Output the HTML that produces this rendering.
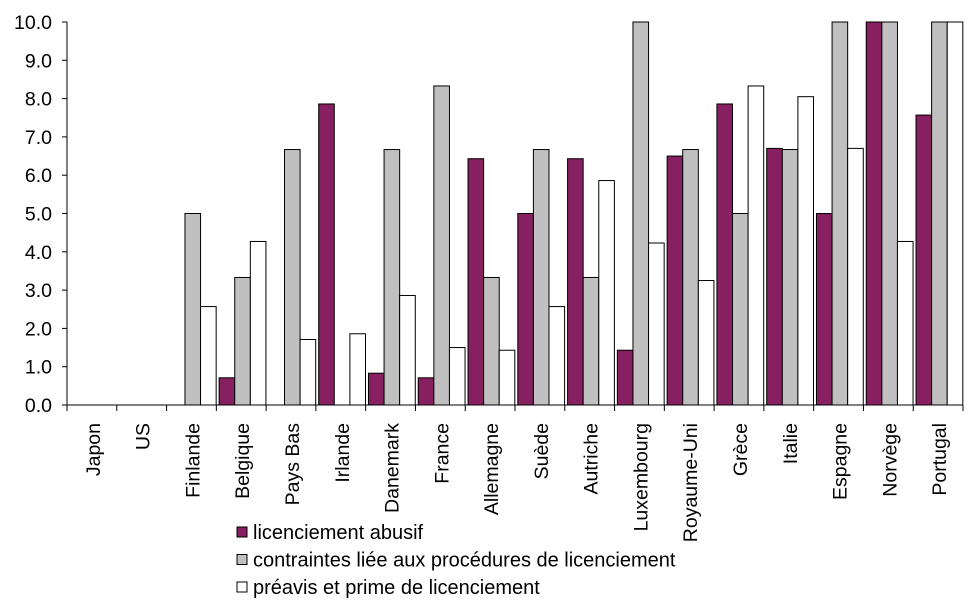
<!DOCTYPE html>
<html><head><meta charset="utf-8"><style>
body{margin:0;background:#fff}
svg text{font-family:"Liberation Sans",Arial,sans-serif;font-size:19.5px;fill:#000}
</style></head><body>
<svg id="chart" width="970" height="603" viewBox="0 0 970 603" xmlns="http://www.w3.org/2000/svg">
<g id="plot"></g>
<g id="legend"></g>
</svg>
<script>
const categories=["Japon","US","Finlande","Belgique","Pays Bas","Irlande","Danemark","France","Allemagne","Suède","Autriche","Luxembourg","Royaume-Uni","Grèce","Italie","Espagne","Norvège","Portugal"];
const abusif=[0,0,0,0.71,0,7.86,0.83,0.71,6.43,5.0,6.43,1.43,6.5,7.86,6.7,5.0,10,7.57];
const contraintes=[0,0,5.0,3.33,6.67,0,6.67,8.33,3.33,6.67,3.33,10,6.67,5.0,6.67,10,10,10];
const preavis=[0,0,2.57,4.27,1.71,1.86,2.86,1.5,1.43,2.57,5.86,4.23,3.25,8.33,8.05,6.7,4.27,10];
const yTicks=[0,1,2,3,4,5,6,7,8,9,10];
const seriesNames=["licenciement abusif","contraintes liée aux procédures de licenciement","préavis et prime de licenciement"];
const seriesColors=["#862060","#c0c0c0","#ffffff"];

const NS="http://www.w3.org/2000/svg";
const X0=67,X1=963,Y0=405,Y1=22;
const bw=(X1-X0)/categories.length;
const y=v=>Y0-(v/10)*(Y0-Y1);
const plot=document.getElementById('plot');
function mk(tag,attrs,parent){const e=document.createElementNS(NS,tag);for(const k in attrs)e.setAttribute(k,attrs[k]);parent.appendChild(e);return e;}

const allSeries=[abusif,contraintes,preavis];
allSeries.forEach((s,si)=>{
  s.forEach((v,i)=>{
    if(v<=0)return;
    const r=mk('rect',{x:X0+i*bw+2.8+si*15.6,y:y(v),width:15.6,height:Y0-y(v),fill:seriesColors[si],stroke:'#000','stroke-width':1},plot);
    
    
  });
});
const ya=mk('line',{x1:X0,y1:Y1,x2:X0,y2:Y0,stroke:'#000'},plot);


const xa=mk('line',{x1:X0,y1:Y0,x2:X1,y2:Y0,stroke:'#000'},plot);


yTicks.forEach(t=>{
  mk('line',{x1:X0-5,y1:y(t),x2:X0,y2:y(t),stroke:'#000'},plot);
  const tx=mk('text',{x:52,y:y(t)+7,'text-anchor':'end'},plot);
  tx.textContent=t.toFixed(1);
  
  
});
for(let i=0;i<=categories.length;i++){
  mk('line',{x1:X0+i*bw,y1:Y0,x2:X0+i*bw,y2:Y0+6,stroke:'#000'},plot);
}
categories.forEach((c,i)=>{
  const cx=X0+(i+0.5)*bw+8;
  const tx=mk('text',{x:cx,y:423,'text-anchor':'end',transform:`rotate(-90 ${cx} 423)`},plot);
  tx.textContent=c;
  
  
});
const lg=document.getElementById('legend');
seriesNames.forEach((n,i)=>{
  const yy=532+i*27.5;
  const r=mk('rect',{x:237,y:yy-5,width:10,height:10,fill:seriesColors[i],stroke:'#000'},lg);
  
  
  const t=mk('text',{x:253,y:yy+7,style:'font-size:20px'},lg);
  t.textContent=n;
  
  
});
</script>
</body></html>
